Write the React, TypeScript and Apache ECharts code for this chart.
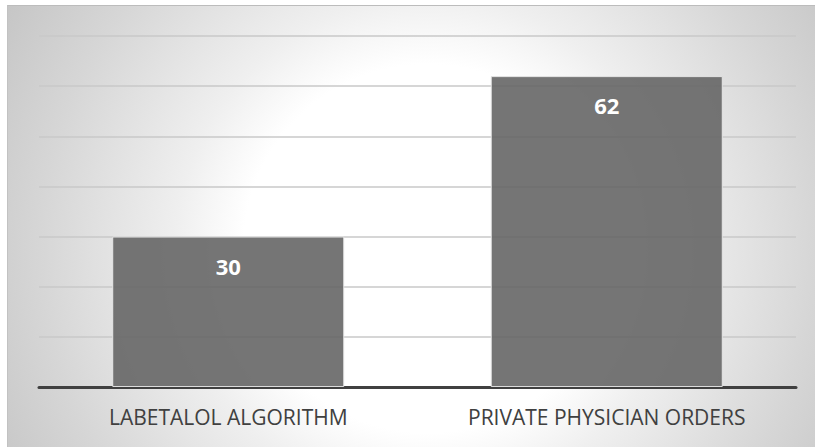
import React, { useEffect, useRef } from "react";
import * as echarts from "echarts";

const categories = ["LABETALOL ALGORITHM", "PRIVATE PHYSICIAN ORDERS"];
const values = [30, 62];
const yMin = 0;
const yMax = 70;
const yInterval = 10;

export default function App() {
  const ref = useRef<HTMLDivElement>(null);
  useEffect(() => {
    if (!ref.current) return;
    const chart = echarts.init(ref.current, undefined, { renderer: "svg" });
    chart.setOption({
      animation: false,
      backgroundColor: "transparent",
      grid: { left: 31, right: 19, top: 30, bottom: 60, containLabel: false },
      xAxis: {
        type: "category",
        data: categories,
        axisLine: { show: true, lineStyle: { color: "#404040", width: 3 } },
        axisTick: { show: false },
        axisLabel: {
          color: "#404040",
          fontFamily: "Open Sans",
          fontSize: 21,
          margin: 19,
          interval: 0,
        },
      },
      yAxis: {
        type: "value",
        min: yMin,
        max: yMax,
        interval: yInterval,
        axisLine: { show: false },
        axisTick: { show: false },
        axisLabel: { show: false },
        splitLine: { show: true, lineStyle: { color: "#c9c9c9", width: 1.5 } },
      },
      series: [
        {
          type: "bar",
          data: values,
          barWidth: "61.3%",
          itemStyle: {
            color: "rgba(102,102,102,0.9)",
            borderColor: "rgba(235,235,235,0.9)",
            borderWidth: 1,
          },
          label: {
            show: true,
            position: "insideTop",
            distance: 18,
            color: "#ffffff",
            fontFamily: "Open Sans",
            fontWeight: "bold",
            fontSize: 22,
          },
        },
      ],
    });
    return () => chart.dispose();
  }, []);
  return (
    <div
      style={{
        position: "absolute",
        left: 7,
        top: 5,
        width: 808,
        height: 442,
        boxSizing: "border-box",
        borderTop: "1px solid #bcbcbc",
        borderLeft: "1px solid #c2c2c2",
        background:
          "radial-gradient(circle at 52% 55%, #ffffff 0%, #ffffff 38%, #efefef 52%, #d6d6d6 80%, #c6c6c6 100%)",
      }}
    >
      <div ref={ref} style={{ width: "100%", height: "100%" }} />
    </div>
  );
}
